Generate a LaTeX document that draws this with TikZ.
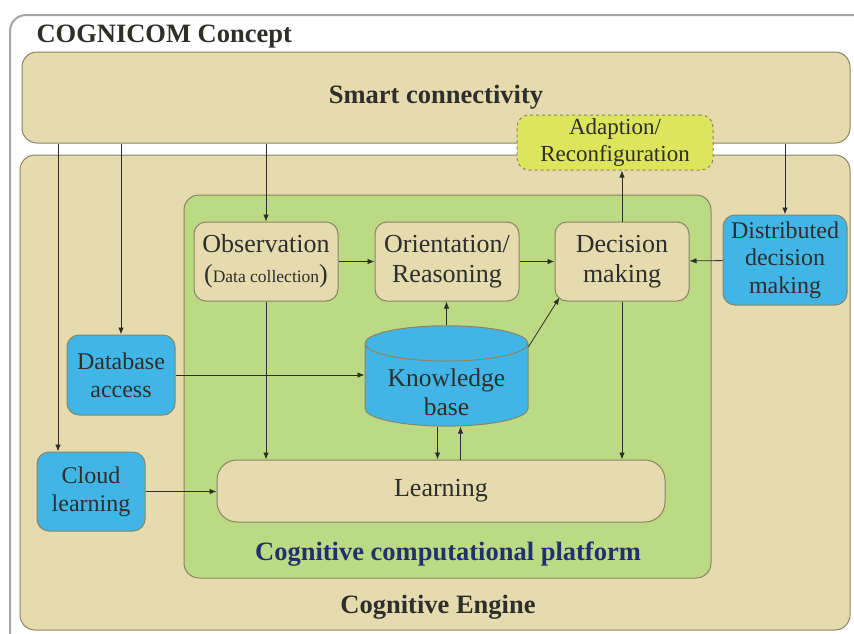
\documentclass[tikz,border=0pt]{standalone}
\usepackage{fontspec}
\setmainfont{Liberation Serif}
\usetikzlibrary{arrows.meta,shapes.geometric}

\definecolor{cogTan}{HTML}{E6DBAF}
\definecolor{cogGreen}{HTML}{BCDA84}
\definecolor{cogBlue}{HTML}{41B6E6}
\definecolor{cogYellow}{HTML}{DCE55B}
\definecolor{cogEdge}{HTML}{8A8466}
\definecolor{cogText}{HTML}{2E2E2A}
\definecolor{cogNavy}{HTML}{233070}

\tikzset{
  box/.style={draw=cogEdge, line width=1pt, rounded corners=12pt, fill=cogTan,
    align=center, inner sep=0pt, text=cogText, font=\fontsize{26}{30}\selectfont},
  bluebox/.style={box, fill=cogBlue, font=\fontsize{24}{28}\selectfont},
  bigtext/.style={text=cogText, font=\bfseries\fontsize{26.5}{30}\selectfont},
  arr/.style={-{Latex[length=7pt,width=5.5pt]}, draw=cogText, line width=0.8pt}
}

\begin{document}
\begin{tikzpicture}[x=1pt, y=-1pt]
        \useasboundingbox (0,0) rectangle (854,633);
        % Riquadri
        \draw[draw=black!35, line width=2pt, rounded corners=16pt, fill=white] (10,15) rectangle (890,670);
        \node[bigtext, anchor=west] (title) at (33,37) {COGNICOM Concept};
        \node[box, rounded corners=15pt, minimum width=828pt, minimum height=91pt, bigtext] (smart) at (436,97.5) {Smart connectivity};
        \node[box, rounded corners=15pt, minimum width=830pt, minimum height=475pt] (engine) at (435,392.5) {};
        \node[bigtext] (enginelbl) at (438,607) {Cognitive Engine};
        \node[box, fill=cogGreen, rounded corners=15pt, minimum width=527pt, minimum height=383pt] (platform) at (447.5,386.5) {};
        \node[bigtext, text=cogNavy] (platformlbl) at (448,554) {Cognitive computational platform};
        \node[box, dashed, fill=cogYellow, minimum width=196pt, minimum height=55pt, font=\fontsize{23}{27}\selectfont] (adapt) at (615,142.5) {Adaption/\\Reconfiguration};

        % Nodi
        \node[box, minimum width=144pt, minimum height=79pt] (obs) at (266,261.5) {Observation\\({\fontsize{17.5}{18}\selectfont Data collection})};
        \node[box, minimum width=144pt, minimum height=79pt] (orient) at (447,261.5) {Orientation/\\Reasoning};
        \node[box, minimum width=134pt, minimum height=79pt] (decision) at (622,261.5) {Decision\\making};
        \node[bluebox, minimum width=124pt, minimum height=90pt, font=\fontsize{24}{27.5}\selectfont] (dist) at (785,260) {Distributed\\decision\\making};
        \node[bluebox, minimum width=108pt, minimum height=80pt] (dbase) at (121,375) {Database\\access};
        \node[bluebox, minimum width=108pt, minimum height=79pt] (cloud) at (91,491.5) {Cloud\\learning};
        \node[cylinder, shape border rotate=90, aspect=0.3, draw=cogEdge, line width=1pt, fill=cogBlue,
              minimum width=163pt, minimum height=96pt, inner sep=0pt, align=center,
              font=\fontsize{25.5}{29}\selectfont] (kbase) at (446.5,385) {\phantom{Knowledge}\\\phantom{base}};
        \node[align=center, text=cogText, font=\fontsize{25.5}{29}\selectfont] (kbaselbl) at ([yshift=-7pt]kbase.center) {Knowledge\\base};
        \node[box, rounded corners=20pt, minimum width=448pt, minimum height=62pt] (learn) at (441,491) {Learning};

        % Archi
        \draw[arr] ([xshift=-33pt]cloud.north |- smart.south) -- ([xshift=-33pt]cloud.north); % verso Cloud learning
        \draw[arr] (smart.south -| dbase.north) -- (dbase.north); % verso Database access
        \draw[arr] (smart.south -| obs.north) -- (obs.north); % verso Observation
        \draw[arr] (smart.south -| dist.north) -- (dist.north); % verso Distributed
        \draw[arr] (decision.north) -- (decision.north |- adapt.south); % verso Adaption
        \draw[arr] (obs) -- (orient);
        \draw[arr] (orient) -- (decision);
        \draw[arr] (dist) -- (decision);
        \draw[arr] (kbase.north) -- (kbase.north |- orient.south);
        \draw[arr] (kbase.25) -- ([xshift=5pt,yshift=4pt]decision.south west);
        \draw[arr] (dbase.east) -- (dbase.east -| kbase.west);
        \draw[arr] (obs.south) -- (obs.south |- learn.north);
        \draw[arr] (decision.south) -- (decision.south |- learn.north);
        \draw[arr] ([xshift=-9pt]kbase.south) -- ([xshift=-9pt]kbase.south |- learn.north);
        \draw[arr] ([xshift=14pt]kbase.south |- learn.north) -- ([xshift=14pt]kbase.south);
        \draw[arr] (cloud.east) -- (cloud.east -| learn.west);

    \end{tikzpicture}
\end{document}
